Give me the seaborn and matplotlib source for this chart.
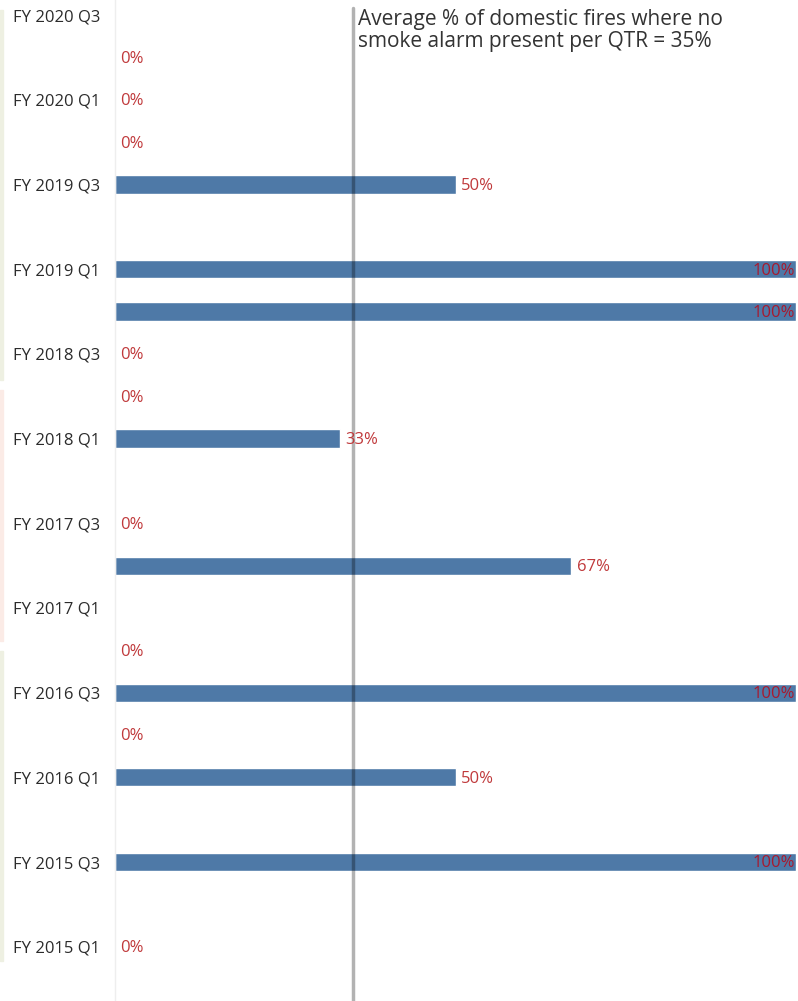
import matplotlib
matplotlib.use("Agg")
import matplotlib.pyplot as plt
import seaborn as sns
import numpy as np
import pandas as pd

# quarters, newest first (None = no data for that quarter)
quarters = ["FY 2020 Q3", "FY 2020 Q2", "FY 2020 Q1",
            "FY 2019 Q4", "FY 2019 Q3", "FY 2019 Q2", "FY 2019 Q1",
            "FY 2018 Q4", "FY 2018 Q3", "FY 2018 Q2", "FY 2018 Q1",
            "FY 2017 Q4", "FY 2017 Q3", "FY 2017 Q2", "FY 2017 Q1",
            "FY 2016 Q4", "FY 2016 Q3", "FY 2016 Q2", "FY 2016 Q1",
            "FY 2015 Q4", "FY 2015 Q3", "FY 2015 Q2", "FY 2015 Q1"]
pct_no_alarm = [None, 0, 0,
                0, 50, None, 100,
                100, 0, 0, 33,
                None, 0, 67, None,
                0, 100, 0, 50,
                None, 100, None, 0]
average_pct = 35
note = "Average % of domestic fires where no\nsmoke alarm present per QTR = 35%"

df = pd.DataFrame({"quarter": quarters,
                   "pct": [np.nan if v is None else v for v in pct_no_alarm]})

sns.set_style("white")
plt.rcParams["font.family"] = ["Open Sans", "DejaVu Sans"]

fig = plt.figure(figsize=(7.98, 10.01), dpi=100)
ax_w = (796 - 115) / 798
ax = fig.add_axes([115 / 798, 0.0, ax_w, 1.0])

sns.barplot(data=df, x="pct", y="quarter", order=quarters, color="#4e79a7",
            saturation=1, width=0.43, ax=ax, orient="h")

ax.set_xlim(0, 100)
ax.set_ylim(23.28, -0.356)
ax.set_xlabel("")
ax.set_ylabel("")
ax.set_xticks([])

# only Q1 / Q3 labels, left aligned at the figure edge
ax.set_yticks(range(len(quarters)))
ax.set_yticklabels([q if q.endswith(("Q1", "Q3")) else "" for q in quarters],
                   fontsize=12, color="#2b2b2b")
ax.tick_params(axis="y", length=4, color="#eeeeee", pad=10)
offset_px = 14 * 100 / 72
for lab in ax.get_yticklabels():
    lab.set_horizontalalignment("left")
    lab.set_x((13 - 115 + offset_px) / 681)

for s in ["top", "right", "bottom"]:
    ax.spines[s].set_visible(False)
ax.spines["left"].set_color("#eeeeee")
ax.spines["left"].set_linewidth(1)

# value labels
for i, v in enumerate(df["pct"]):
    if np.isnan(v):
        continue
    if v >= 90:
        ax.annotate(f"{v:.0f}%", (v, i), xytext=(-1, -1), textcoords="offset points",
                    ha="right", va="center", fontsize=12, color="#a8192e")
    else:
        ax.annotate(f"{v:.0f}%", (v, i), xytext=(4, -1), textcoords="offset points",
                    ha="left", va="center", fontsize=12, color="#c0393b")

# average reference line
ax.axvline(average_pct, color="black", alpha=0.3, lw=2.5, ymax=0.992)
ax.text(average_pct + 0.7, -0.15, note, ha="left", va="top", fontsize=15,
        color="#333333", linespacing=1.1)

# faint dashboard strips on far left
for y0, y1, c in [(0.62, 0.99, "#eef0e2"), (0.36, 0.61, "#fbebe6"),
                  (0.04, 0.35, "#eef0e2")]:
    fig.patches.append(plt.Rectangle((0, y0), 3 / 798, y1 - y0,
                                     transform=fig.transFigure, color=c))

fig.savefig("out.png", dpi=100)
